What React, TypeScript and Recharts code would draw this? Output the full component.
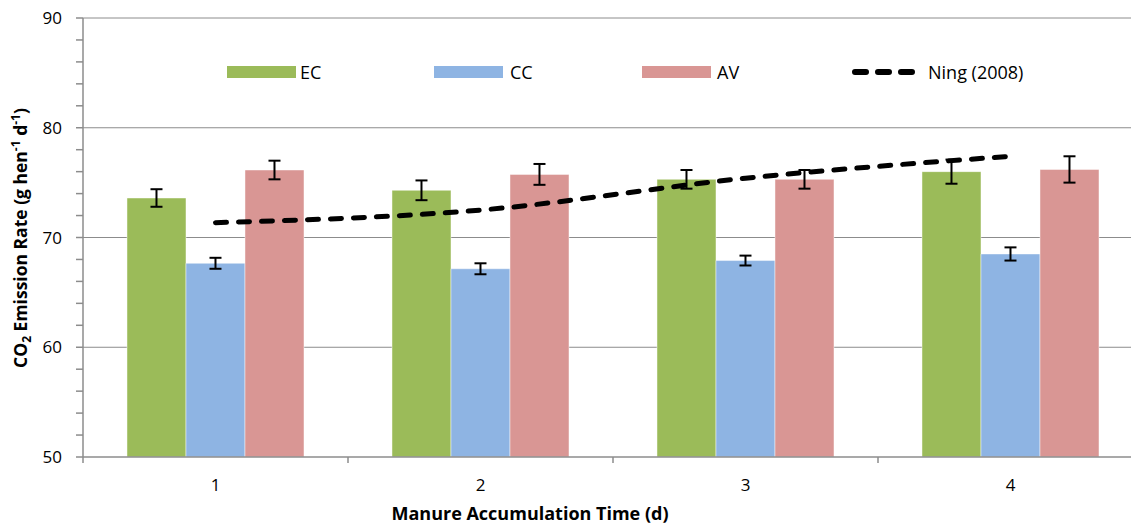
import React from 'react';
import { ComposedChart, Bar, Line, XAxis, YAxis, ErrorBar, CartesianGrid, Legend } from 'recharts';

// ---- data ----
const DAYS = ['1', '2', '3', '4'];
const EC = [73.6, 74.3, 75.3, 76.0];
const EC_ERR = [0.8, 0.9, 0.85, 1.1];
const CC = [67.65, 67.15, 67.9, 68.5];
const CC_ERR = [0.5, 0.5, 0.45, 0.6];
const AV = [76.15, 75.75, 75.3, 76.2];
const AV_ERR = [0.85, 0.95, 0.85, 1.2];
const NING = [71.35, 72.5, 75.4, 77.4];
const Y_TICKS = [50, 52, 54, 56, 58, 60, 62, 64, 66, 68, 70, 72, 74, 76, 78, 80, 82, 84, 86, 88, 90];
const GRID_VALUES = [60, 70, 80, 90];

// ---- layout / style ----
const CHART_W = 1160;
const CHART_H = 525;
const MARGIN = { top: 18, right: 17, bottom: 0, left: 0 };
const Y_AXIS_W = 83;
const X_AXIS_H = 68;
const PLOT_W = CHART_W - MARGIN.left - MARGIN.right - Y_AXIS_W;
const AXIS_Y = CHART_H - MARGIN.bottom - X_AXIS_H;
const FONT = '"Open Sans", sans-serif';
const AXIS_COLOR = '#8C8C8C';
const COLORS = { ec: '#9BBB59', cc: '#8EB4E3', av: '#D99694' };

const data = DAYS.map((d, i) => ({
  day: d,
  ec: EC[i],
  ecErr: EC_ERR[i],
  cc: CC[i],
  ccErr: CC_ERR[i],
  av: AV[i],
  avErr: AV_ERR[i],
  ning: NING[i],
}));

const XTick = (props: any) => {
  const { x, payload, index, visibleTicksCount } = props;
  const half = PLOT_W / DAYS.length / 2;
  return (
    <g>
      <line x1={x - half} x2={x - half} y1={AXIS_Y} y2={AXIS_Y + 6} stroke={AXIS_COLOR} strokeWidth={1.5} />
      {index === visibleTicksCount - 1 && (
        <line x1={x + half} x2={x + half} y1={AXIS_Y} y2={AXIS_Y + 6} stroke={AXIS_COLOR} strokeWidth={1.5} />
      )}
      <text x={x} y={AXIS_Y + 34} textAnchor="middle" fontFamily={FONT} fontSize={17} fill="#000">
        {payload.value}
      </text>
    </g>
  );
};

const XLabel = () => (
  <text x={530} y={520} textAnchor="middle" fontFamily={FONT} fontSize={18} fontWeight="bold" fill="#000">
    Manure Accumulation Time (d)
  </text>
);

const YLabel = () => (
  <text
    x={0}
    y={0}
    transform={`translate(27, 238) rotate(-90)`}
    textAnchor="middle"
    fontFamily={FONT}
    fontSize={17.5}
    fontWeight="bold"
    fill="#000"
  >
    <tspan>CO</tspan>
    <tspan fontSize={12} dy={4}>2</tspan>
    <tspan dy={-4}> Emission Rate (g hen</tspan>
    <tspan fontSize={12} dy={-7}>-1</tspan>
    <tspan dy={7}> d</tspan>
    <tspan fontSize={12} dy={-7}>-1</tspan>
    <tspan dy={7}>)</tspan>
  </text>
);

const LEGEND_ITEMS = [
  { name: 'EC', color: COLORS.ec, swatch: 227, text: 300, kind: 'bar' },
  { name: 'CC', color: COLORS.cc, swatch: 434, text: 510, kind: 'bar' },
  { name: 'AV', color: COLORS.av, swatch: 642, text: 717, kind: 'bar' },
  { name: 'Ning (2008)', color: '#000', swatch: 851, text: 928, kind: 'line' },
];

const LegendBox = () => (
  <div style={{ position: 'relative', width: 1131, height: 24, fontFamily: FONT, fontSize: 18, color: '#000' }}>
    {LEGEND_ITEMS.map((it) => (
      <React.Fragment key={it.name}>
        {it.kind === 'bar' ? (
          <div style={{ position: 'absolute', left: it.swatch, top: 6, width: 69, height: 12, background: it.color }} />
        ) : (
          <svg style={{ position: 'absolute', left: it.swatch, top: 6 }} width={66} height={12}>
            <line x1={4} x2={62} y1={6} y2={6} stroke="#000" strokeWidth={6} strokeDasharray="11 12" strokeLinecap="round" />
          </svg>
        )}
        <div style={{ position: 'absolute', left: it.text, top: 0, lineHeight: '24px', whiteSpace: 'nowrap' }}>{it.name}</div>
      </React.Fragment>
    ))}
  </div>
);

export default function App() {
  return (
    <div style={{ position: 'absolute', left: 0, top: 0, width: 1131, height: 525, overflow: 'hidden', background: '#fff' }}>
      <ComposedChart
        width={CHART_W}
        height={CHART_H}
        data={data}
        margin={MARGIN}
        barCategoryGap="16.6%"
        barGap={0}
      >
        <CartesianGrid horizontal vertical={false} horizontalValues={GRID_VALUES} stroke={AXIS_COLOR} strokeWidth={1} />
        <XAxis
          dataKey="day"
          height={X_AXIS_H}
          tickLine={false}
          tickSize={6}
          tickMargin={15}
          axisLine={{ stroke: AXIS_COLOR, strokeWidth: 1.5 }}
          tick={<XTick />}
          interval={0}
          label={XLabel}
        />
        <YAxis
          width={Y_AXIS_W}
          domain={[50, 90]}
          ticks={Y_TICKS}
          interval={0}
          allowDataOverflow
          tickSize={7}
          tickMargin={14}
          tickFormatter={(v: number) => (v % 10 === 0 ? String(v) : '')}
          tickLine={{ stroke: AXIS_COLOR, strokeWidth: 1.5 }}
          axisLine={{ stroke: AXIS_COLOR, strokeWidth: 1.5 }}
          tick={{ fill: '#000', fontSize: 17, fontFamily: FONT }}
          label={YLabel}
        />
        <Legend
          verticalAlign="middle"
          layout="horizontal"
          wrapperStyle={{ position: 'absolute', top: 60, left: 0, width: 1131, height: 24 }}
          content={() => <LegendBox />}
        />
        <Bar dataKey="ec" fill={COLORS.ec} stroke="#fff" strokeOpacity={0.45} strokeWidth={1} isAnimationActive={false}>
          <ErrorBar dataKey="ecErr" width={6} stroke="#000" strokeWidth={2} />
        </Bar>
        <Bar dataKey="cc" fill={COLORS.cc} stroke="#fff" strokeOpacity={0.45} strokeWidth={1} isAnimationActive={false}>
          <ErrorBar dataKey="ccErr" width={6} stroke="#000" strokeWidth={2} />
        </Bar>
        <Bar dataKey="av" fill={COLORS.av} stroke="#fff" strokeOpacity={0.45} strokeWidth={1} isAnimationActive={false}>
          <ErrorBar dataKey="avErr" width={6} stroke="#000" strokeWidth={2} />
        </Bar>
        <Line
          type="monotone"
          dataKey="ning"
          stroke="#000"
          strokeWidth={5}
          strokeDasharray="11 12"
          strokeLinecap="round"
          dot={false}
          activeDot={false}
          isAnimationActive={false}
        />
      </ComposedChart>
    </div>
  );
}
